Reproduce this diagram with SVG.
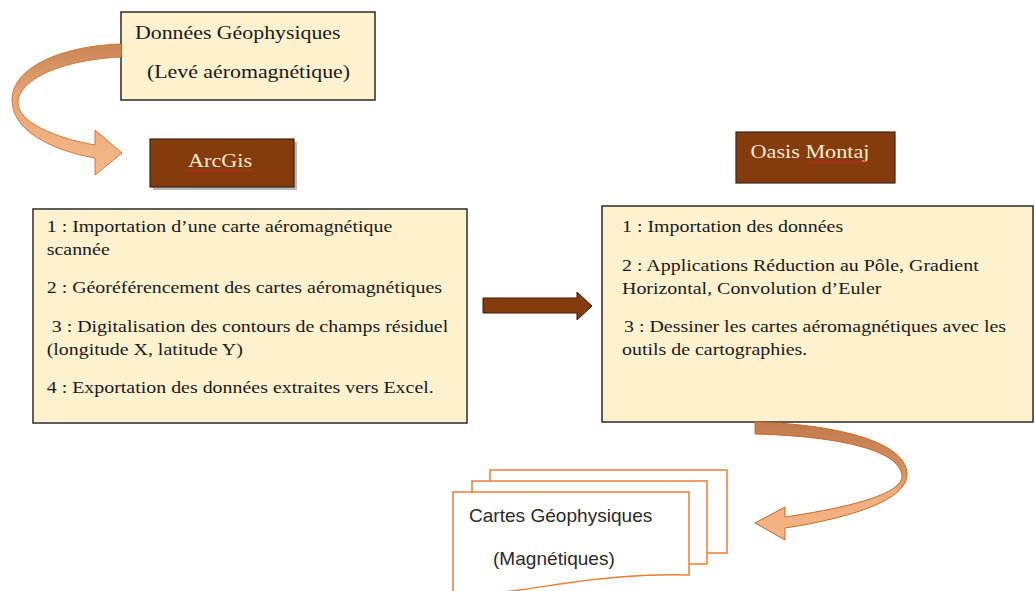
<svg xmlns="http://www.w3.org/2000/svg" width="1035" height="591" viewBox="0 0 1035 591">
<style>
.box{fill:#fef1cd;stroke:#2b2b2b;stroke-width:1.5}
.dark{fill:#843c0c;stroke:#3b2314;stroke-width:1.2}
.t{font-family:"Liberation Serif","Times New Roman",serif;fill:#1a1a1a}
.body{font-size:16.6px}
.head{font-size:18.2px}
.lbl{font-size:18.5px;fill:#fde9d2}
.sans{font-family:"Liberation Sans",Arial,sans-serif;font-size:18px;fill:#2a2a2a}
.page{fill:#ffffff;stroke:#ed7d31;stroke-width:1.5}
.spell{stroke:#d02020;stroke-width:1;fill:none}
</style>
<defs>
<linearGradient id="gL" x1="0" y1="0" x2="0" y2="1">
<stop offset="0" stop-color="#c98555"/>
<stop offset="0.4" stop-color="#e8a474"/>
<stop offset="1" stop-color="#f6ba8c"/>
</linearGradient>
<linearGradient id="gR" x1="0" y1="0" x2="0" y2="1">
<stop offset="0" stop-color="#c07a4c"/>
<stop offset="0.45" stop-color="#d99160"/>
<stop offset="0.6" stop-color="#f0ac7c"/>
<stop offset="1" stop-color="#f5b585"/>
</linearGradient>
</defs>

<g id="node-donnees">
<rect class="box" x="121" y="12" width="254" height="88"/>
<text class="t head" transform="matrix(1.2 0 0 1 135 39)">Données Géophysiques</text>
<text class="t head" transform="matrix(1.2 0 0 1 147 78)">(Levé aéromagnétique)</text>
</g>

<g id="node-arcgis">
<rect x="153" y="142" width="144" height="48" fill="#8c8c8c" opacity="0.6"/>
<rect class="dark" x="150" y="139" width="144" height="48"/>
<text class="t lbl" text-anchor="middle" transform="matrix(1.2 0 0 1 220 167)">ArcGis</text>
<path class="spell" d="M185,170.5 L253,170.5"/>
</g>

<g id="node-arcgis-steps">
<rect class="box" x="33" y="209" width="434" height="214"/>
<text class="t body" transform="matrix(1.2 0 0 1 46.7 232)">1 : Importation d’une carte aéromagnétique</text>
<text class="t body" transform="matrix(1.2 0 0 1 46.7 255)">scannée</text>
<text class="t body" transform="matrix(1.2 0 0 1 46.7 293)">2 : Géoréférencement des cartes aéromagnétiques</text>
<text class="t body" transform="matrix(1.2 0 0 1 51.7 332)">3 : Digitalisation des contours de champs résiduel</text>
<text class="t body" transform="matrix(1.2 0 0 1 46.7 355)">(longitude X, latitude Y)</text>
<text class="t body" transform="matrix(1.2 0 0 1 46.7 393)">4 : Exportation des données extraites vers Excel.</text>
</g>

<g id="node-oasis">
<rect class="dark" x="736" y="132" width="159" height="51"/>
<text class="t lbl" text-anchor="middle" transform="matrix(1.2 0 0 1 810 158)">Oasis Montaj</text>
<path class="spell" d="M807,162 L868,162"/>
</g>

<g id="node-oasis-steps">
<rect class="box" x="602" y="206" width="431" height="216"/>
<text class="t body" transform="matrix(1.2 0 0 1 622 232)">1 : Importation des données</text>
<text class="t body" transform="matrix(1.2 0 0 1 622 271)">2 : Applications Réduction au Pôle, Gradient</text>
<text class="t body" transform="matrix(1.2 0 0 1 622 294)">Horizontal, Convolution d’Euler</text>
<text class="t body" transform="matrix(1.2 0 0 1 624 332)">3 : Dessiner les cartes aéromagnétiques avec les</text>
<text class="t body" transform="matrix(1.2 0 0 1 622 355)">outils de cartographies.</text>
</g>

<g id="node-cartes">
<rect class="page" x="490" y="470" width="237" height="83"/>
<rect class="page" x="472" y="481" width="235" height="83"/>
<path class="page" d="M453,492 H689 V575 C650,574 600,578 560,584 C520,590 490,595 453,596 Z"/>
<text class="sans" transform="matrix(1.06 0 0 1 469 522)">Cartes Géophysiques</text>
<text class="sans" transform="matrix(1.06 0 0 1 493 565)">(Magnétiques)</text>
</g>

<g id="connectors">
<path id="arrow-donnees-arcgis" fill="url(#gL)" stroke="#d0783a" stroke-width="1" d="M121,44 C60,46 12,68 12,100 C12,130 50,150 95,158 L95,175 L122,153 L95,130 L95,145 C55,138 18,122 18,103 C18,80 60,60 121,57 Z"/>
<path id="arrow-arcgis-oasis" fill="#843c0c" stroke="#3a1a08" stroke-width="1" d="M483,298 H577 V292 L592,306 L577,320 V313 H483 Z"/>
<path id="arrow-oasis-cartes" fill="url(#gR)" stroke="#c8692a" stroke-width="1" d="M755,422 C830,424 905,440 907,473 C909,500 850,518 785,528 L785,540 L755,523 L785,507 L785,517 C845,508 902,495 902,476 C900,448 830,436 755,434 Z"/>
</g>
</svg>
